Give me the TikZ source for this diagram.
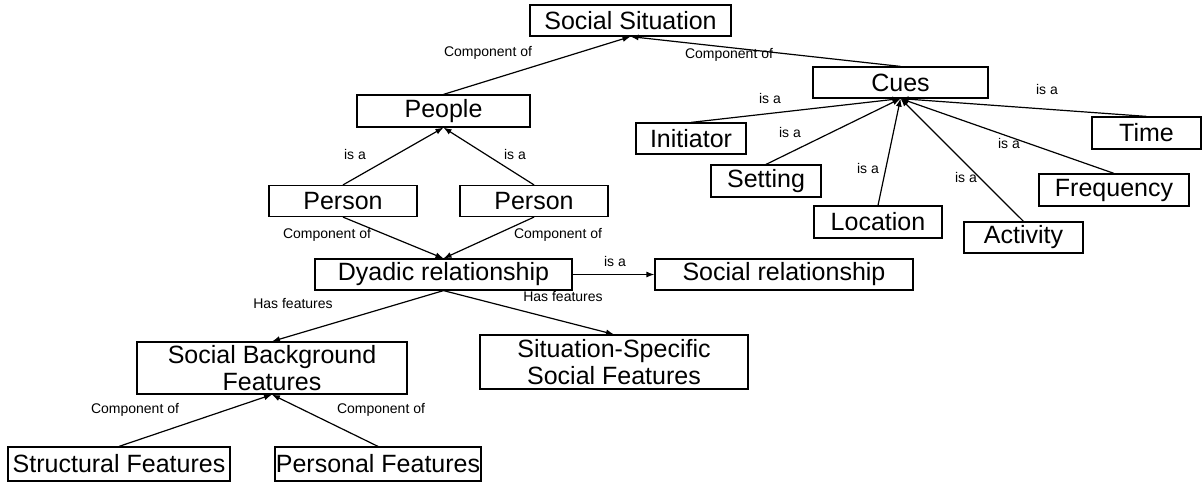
\documentclass[tikz,border=0pt]{standalone}
\usepackage{fontspec}
\setmainfont{Liberation Sans}
\usetikzlibrary{arrows.meta, positioning}

\begin{document}
\begin{tikzpicture}[x=1pt, y=-1pt,
        concept/.style={rectangle, draw, line width=1.2pt, inner sep=0pt, align=center, font=\fontsize{25}{27}\selectfont},
        rel/.style={inner sep=0pt, font=\fontsize{14}{16}\selectfont},
        link/.style={-{Latex[length=8pt, width=6pt]}, line width=1.2pt}]
        \fill[white] (0,0) rectangle (1203,485);
        \useasboundingbox (0,0) rectangle (1203,485);
        % top level
        \node[concept, minimum width=201, minimum height=31] (ss) at (630.5,20.5) {Social Situation};
        \node[concept, minimum width=173, minimum height=32] (people) at (443.5,111) {People};
        \node[concept, minimum width=175, minimum height=31] (cues) at (900.5,82.5) {Cues};
        % cues
        \node[concept, minimum width=110, minimum height=31] (initiator) at (691,138.5) {Initiator};
        \node[concept, minimum width=109, minimum height=32] (time) at (1146.5,133) {Time};
        \node[concept, minimum width=110, minimum height=32] (setting) at (766,181) {Setting};
        \node[concept, minimum width=150, minimum height=32] (frequency) at (1114,190) {Frequency};
        \node[concept, minimum width=128, minimum height=32] (location) at (878,222) {Location};
        \node[concept, minimum width=119, minimum height=31] (activity) at (1023.5,237.5) {Activity};
        % people
        \node[concept, minimum width=148, minimum height=31] (person1) at (343,201) {Person};
        \node[concept, minimum width=148, minimum height=31] (person2) at (534,201) {Person};
        \node[concept, minimum width=257, minimum height=31] (dyadic) at (443.5,274.5) {Dyadic relationship};
        \node[concept, minimum width=258, minimum height=31] (socrel) at (784,274.5) {Social relationship};
        % features
        \node[concept, minimum width=270, minimum height=52] (background) at (272,368) {Social Background\\Features};
        \node[concept, minimum width=268, minimum height=54] (specific) at (614,362) {Situation-Specific\\Social Features};
        \node[concept, minimum width=222, minimum height=34] (structural) at (119,464) {Structural Features};
        \node[concept, minimum width=206, minimum height=34] (personal) at (378,464) {Personal Features};

        \path[link] (people.north) edge (ss.south);
        \path[link] (cues.north) edge (ss.south);
        \path[link] (initiator.north) edge (cues.south);
        \path[link] (setting.north) edge (cues.south);
        \path[link] (location.north) edge (cues.south);
        \path[link] (activity.north) edge (cues.south);
        \path[link] (frequency.north) edge (cues.south);
        \path[link] (time.north) edge (cues.south);
        \path[link] (person1.north) edge (people.south);
        \path[link] (person2.north) edge (people.south);
        \path[link] (person1.south) edge (dyadic.north);
        \path[link] (person2.south) edge (dyadic.north);
        \path[link] (dyadic.east) edge (socrel.west);
        \path[link] (dyadic.south) edge (background.north);
        \path[link] (dyadic.south) edge (specific.north);
        \path[link] (structural.north) edge (background.south);
        \path[link] (personal.north) edge (background.south);

        % connector labels
        \node[rel] (l_people) at (488,53) {Component of};
        \node[rel] (l_cues) at (729,55) {Component of};
        \node[rel] (l_initiator) at (770,98) {is a};
        \node[rel] (l_setting) at (790,132) {is a};
        \node[rel] (l_location) at (868,168) {is a};
        \node[rel] (l_activity) at (966,177) {is a};
        \node[rel] (l_frequency) at (1009,143) {is a};
        \node[rel] (l_time) at (1047,89) {is a};
        \node[rel] (l_person1) at (355,154) {is a};
        \node[rel] (l_person2) at (515,154) {is a};
        \node[rel] (l_dyad1) at (327,235) {Component of};
        \node[rel] (l_dyad2) at (558,235) {Component of};
        \node[rel] (l_socrel) at (615,261) {is a};
        \node[rel] (l_background) at (293,303) {Has features};
        \node[rel] (l_specific) at (563,296) {Has features};
        \node[rel] (l_structural) at (135,410) {Component of};
        \node[rel] (l_personal) at (381,410) {Component of};
    \end{tikzpicture}
\end{document}
